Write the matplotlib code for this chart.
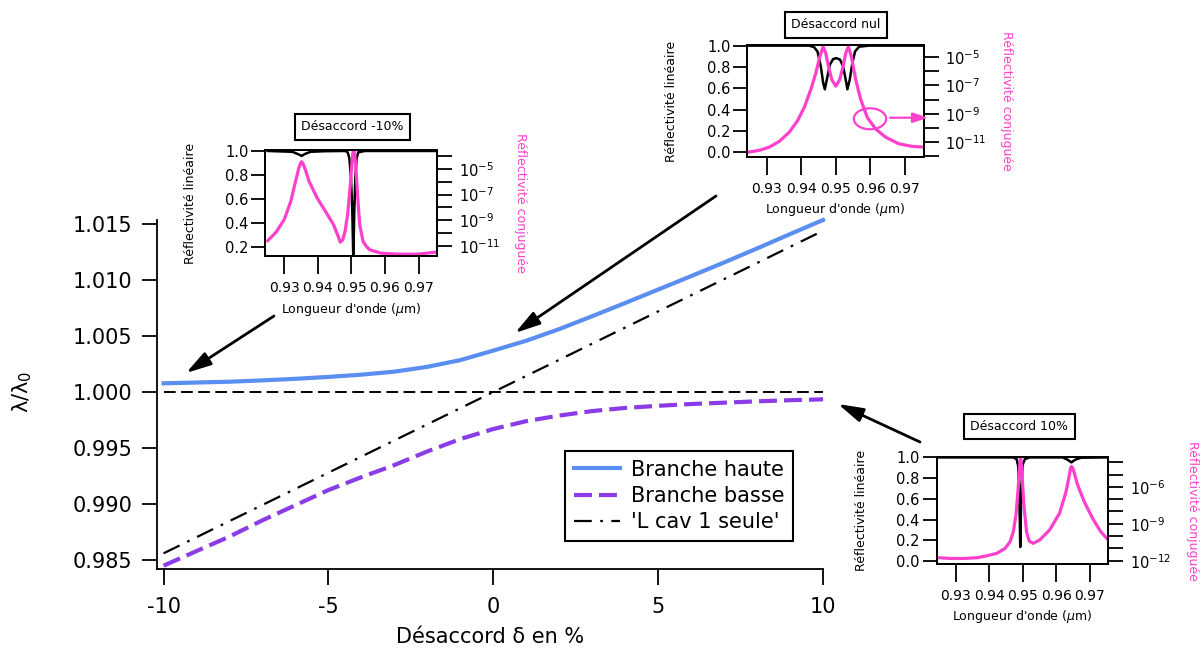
import matplotlib
matplotlib.use('Agg')
import matplotlib.pyplot as plt
import numpy as np
from matplotlib.patches import Ellipse, FancyArrowPatch
from matplotlib.ticker import FixedLocator, FixedFormatter, NullLocator, FormatStrFormatter

plt.rcParams['font.family'] = ['DejaVu Sans']
plt.rcParams['mathtext.fontset'] = 'dejavusans'
plt.rcParams['mathtext.default'] = 'regular'
plt.rcParams['axes.unicode_minus'] = False

# ---------------- main chart data ----------------
delta = [-10, -9, -8, -7, -6, -5, -4, -3, -2, -1, 0, 1, 2, 3, 4, 5, 6, 7, 8, 9, 10]
branche_haute = [1.00078, 1.00085, 1.00092, 1.00104, 1.00118, 1.00135, 1.00155, 1.00182,
                 1.00225, 1.00285, 1.00370, 1.00458, 1.00562, 1.00677, 1.00795, 1.00915,
                 1.01035, 1.01157, 1.01282, 1.01410, 1.01536]
branche_basse = [0.98450, 0.98580, 0.98710, 0.98855, 0.98990, 0.99125, 0.99240, 0.99348,
                 0.99470, 0.99580, 0.99670, 0.99740, 0.99790, 0.99830, 0.99858, 0.99877,
                 0.99893, 0.99905, 0.99917, 0.99927, 0.99935]
delta_cav = [-10, 10]
l_cav_seule = [0.98560, 1.01440]
delta_ref = [-10, 10]
ref_line = [1.0, 1.0]
x_ticks = [-10, -5, 0, 5, 10]
y_ticks = [0.985, 0.990, 0.995, 1.000, 1.005, 1.010, 1.015]

# ---------------- inset data (wavelength in µm) ----------------
# Désaccord -10%
lam_k1 = [0.9251, 0.93245, 0.93422, 0.9352, 0.93618, 0.93784, 0.94225, 0.94814, 0.94892,
          0.94941, 0.9499, 0.95029, 0.95059, 0.95088, 0.95118, 0.95157, 0.95206, 0.95402, 0.9751]
refl_k1 = [0.997, 0.99, 0.97, 0.956, 0.972, 0.99, 0.995, 0.997, 0.986,
           0.937, 0.772, 0.497, 0.10, 0.497, 0.772, 0.937, 0.986, 0.997, 0.997]
lam_p1 = [0.9251, 0.9276, 0.9300, 0.9320, 0.9334, 0.9344, 0.9349, 0.9352, 0.9356, 0.9363,
          0.9374, 0.9398, 0.9423, 0.9447, 0.9460, 0.9467, 0.9474, 0.9481, 0.9489, 0.9497,
          0.9504, 0.9508, 0.9513, 0.9519, 0.9525, 0.9535, 0.9545, 0.9555, 0.9589, 0.9638,
          0.9697, 0.9751]
logc_p1 = [-10.6, -9.93, -8.96, -7.52, -5.96, -4.91, -4.55, -4.44, -4.58, -5.05,
           -5.96, -7.26, -8.31, -9.35, -10.2, -10.71, -10.55, -9.9, -8.57, -6.22,
           -3.87, -3.4, -4.65, -7.26, -9.35, -10.66, -11.05, -11.31, -11.57, -11.65,
           -11.65, -11.49]

# Désaccord nul
lam_k2 = [0.9248, 0.94234, 0.94378, 0.94475, 0.94571, 0.94639, 0.94687, 0.94745, 0.94831,
          0.94928, 0.95024, 0.95130, 0.95217, 0.95294, 0.95342, 0.95410, 0.95487, 0.95564,
          0.95680, 0.95969, 0.97559]
refl_k2 = [1.0, 1.0, 0.985, 0.945, 0.806, 0.652, 0.59, 0.68, 0.82, 0.874, 0.883, 0.868,
           0.806, 0.68, 0.59, 0.68, 0.837, 0.945, 0.99, 1.0, 1.0]
lam_p2 = [0.92480, 0.92788, 0.93077, 0.93366, 0.93655, 0.93896, 0.94089, 0.94282, 0.94427,
          0.94542, 0.94639, 0.94716, 0.94793, 0.94889, 0.95005, 0.95120, 0.95217, 0.95294,
          0.95371, 0.95458, 0.95583, 0.95728, 0.95920, 0.96161, 0.96451, 0.96836, 0.97222, 0.97559]
logc_p2 = [-11.7, -11.58, -11.35, -10.95, -10.3, -9.49, -8.56, -7.28, -6.12, -4.95, -4.26,
           -4.72, -5.65, -6.58, -7.05, -6.58, -5.65, -4.72, -4.26, -4.95, -6.58, -7.98,
           -9.26, -10.07, -10.65, -11.12, -11.3, -11.35]

# Désaccord 10%
lam_k3 = [0.92509, 0.9472, 0.94818, 0.94867, 0.94897, 0.94926, 0.94956, 0.94995, 0.95064,
          0.95211, 0.96194, 0.96342, 0.9645, 0.96558, 0.96735, 0.97521]
refl_k3 = [1.0, 1.0, 0.984, 0.91, 0.668, 0.135, 0.668, 0.926, 0.984, 1.0, 1.0, 0.977,
           0.952, 0.977, 0.997, 1.0]
lam_p3 = [0.92509, 0.92853, 0.93246, 0.93639, 0.93934, 0.94229, 0.94474, 0.94622, 0.94720,
          0.94799, 0.94857, 0.94897, 0.94936, 0.94975, 0.95034, 0.95113, 0.95192, 0.95310,
          0.95506, 0.95801, 0.96096, 0.96292, 0.96391, 0.96420, 0.96450, 0.96480, 0.96509,
          0.96636, 0.96833, 0.97079, 0.97324, 0.97521]
logc_p3 = [-11.76, -11.82, -11.82, -11.76, -11.6, -11.4, -11.0, -10.46, -9.64, -8.28, -6.38,
           -4.75, -3.53, -4.75, -7.47, -9.64, -10.4, -10.59, -10.32, -9.5, -8.15, -6.38,
           -5.02, -4.55, -4.34, -4.42, -4.61, -5.84, -7.2, -8.55, -9.64, -10.24]

inset_xticks = [0.93, 0.94, 0.95, 0.96, 0.97]

# ---------------- styling ----------------
W, H = 1204, 655
BLUE = '#5a8ef0'
PURPLE = '#8a3ce6'
PINK = '#ff40cc'

def fx(x):
    return x / W

def fy(y):
    return 1 - y / H

fig = plt.figure(figsize=(W / 100, H / 100), dpi=100)

# ---------------- main axes ----------------
ax = fig.add_axes([fx(157), fy(569), 666 / W, 349 / H])
ax.plot(delta_ref, ref_line, color='black', lw=1.4, linestyle=(0, (6, 2.8)), clip_on=False)
l3, = ax.plot(delta_cav, l_cav_seule, color='black', lw=1.6,
              linestyle=(0, (8, 3.8, 1.2, 3.8)), clip_on=False, label="'L cav 1 seule'")
l2, = ax.plot(delta, branche_basse, color=PURPLE, lw=3.0,
              linestyle=(0, (4.3, 1.7)), clip_on=False, label='Branche basse')
l1, = ax.plot(delta, branche_haute, color=BLUE, lw=3.0, clip_on=False, label='Branche haute')
ax.set_xlim(-10.2, 10.0)
ax.set_ylim(0.98420, 1.01536)
ax.spines['top'].set_visible(False)
ax.spines['right'].set_visible(False)
for s in ('left', 'bottom'):
    ax.spines[s].set_linewidth(1.3)
ax.set_xticks(x_ticks)
ax.set_xticklabels([str(v) for v in x_ticks])
ax.set_yticks(y_ticks)
ax.yaxis.set_major_formatter(FormatStrFormatter('%.3f'))
ax.tick_params(axis='y', direction='out', length=10.8, width=1.3, pad=7, labelsize=15)
ax.tick_params(axis='x', direction='out', length=11.5, width=1.3, pad=9, labelsize=15)
fig.text(fx(490), fy(637), 'Désaccord δ en %', ha='center', va='center', fontsize=15)
fig.text(fx(22), fy(392), r'$\lambda/\lambda_0$', ha='center', va='center',
         fontsize=15, rotation=90)

leg = ax.legend(handles=[l1, l2, l3], loc='upper left',
                bbox_to_anchor=(fx(565), fy(451)), bbox_transform=fig.transFigure,
                borderaxespad=0, fontsize=15, frameon=True, fancybox=False,
                edgecolor='black', framealpha=1, handlelength=2.2, handletextpad=0.55,
                labelspacing=0.3, borderpad=0.42)
leg.get_frame().set_linewidth(1.5)


def make_inset(box, lam_k, refl_k, lam_p, logc_p, ylim_l, yticks_l, log_lim,
               rticks, rlabel_exps, title, title_xy, xlabel_y, llabel_x, rlabel_x):
    x0, y0, x1, y1 = box
    a = fig.add_axes([fx(x0), fy(y1), (x1 - x0) / W, (y1 - y0) / H])
    a.plot(lam_k, refl_k, color='black', lw=1.8)
    a.set_xlim(0.9243, 0.9755)
    a.set_ylim(*ylim_l)
    a.set_xticks(inset_xticks)
    a.xaxis.set_major_formatter(FormatStrFormatter('%.2f'))
    a.set_yticks(yticks_l)
    a.yaxis.set_major_formatter(FormatStrFormatter('%.1f'))
    a.tick_params(axis='x', direction='out', length=13, width=1.3, pad=5, labelsize=10)
    a.tick_params(axis='y', direction='out', length=10, width=1.3, pad=2, labelsize=10.5)
    for s in a.spines.values():
        s.set_linewidth(1.3)
    b = a.twinx()
    b.plot(lam_p, 10 ** np.array(logc_p), color=PINK, lw=2.3, solid_joinstyle='round')
    b.set_yscale('log')
    b.set_ylim(10 ** log_lim[0], 10 ** log_lim[1])
    b.yaxis.set_major_locator(FixedLocator([10.0 ** e for e in rticks]))
    b.yaxis.set_major_formatter(FixedFormatter(
        ['10$^{%d}$' % e if e in rlabel_exps else '' for e in rticks]))
    b.yaxis.set_minor_locator(NullLocator())
    b.tick_params(axis='y', direction='out', length=10.8, width=1.3, pad=5, labelsize=10.5)
    for s in b.spines.values():
        s.set_linewidth(1.3)
    cx = (x0 + x1) / 2
    cy = (y0 + y1) / 2
    fig.text(fx(cx), fy(xlabel_y), r"Longueur d'onde ($\mathit{\mu}$m)",
             ha='center', va='center', fontsize=9)
    fig.text(fx(llabel_x), fy(cy), 'Réflectivité linéaire', ha='center', va='center',
             fontsize=9, rotation=90)
    fig.text(fx(rlabel_x), fy(cy), 'Réflectivité conjuguée', ha='center', va='center',
             fontsize=9, rotation=-90, color=PINK)
    fig.text(fx(title_xy[0]), fy(title_xy[1]), title, ha='center', va='center', fontsize=9,
             bbox=dict(boxstyle='square,pad=0.5', fc='white', ec='black', lw=1.5))
    return a, b


make_inset((265, 150, 437, 256), lam_k1, refl_k1, lam_p1, logc_p1,
           (0.1275, 1.005), [0.2, 0.4, 0.6, 0.8, 1.0], (-11.79, -3.53),
           [-4, -5, -6, -7, -8, -9, -10, -11], [-5, -7, -9, -11],
           'Désaccord -10%', (352.5, 127), 310, 190.7, 520)
make_inset((747, 45, 923.5, 157), lam_k2, refl_k2, lam_p2, logc_p2,
           (-0.046, 1.006), [0.0, 0.2, 0.4, 0.6, 0.8, 1.0], (-12.05, -4.14),
           [-5, -6, -7, -8, -9, -10, -11, -12], [-5, -7, -9, -11],
           'Désaccord nul', (836, 25), 209, 671.7, 1006.7)
make_inset((936.5, 457, 1108.3, 564), lam_k3, refl_k3, lam_p3, logc_p3,
           (-0.029, 1.004), [0.0, 0.2, 0.4, 0.6, 0.8, 1.0], (-12.27, -3.57),
           [-4, -5, -6, -7, -8, -9, -10, -11, -12], [-6, -9, -12],
           'Désaccord 10%', (1019.5, 426.7), 616.7, 861.7, 1193)

# pink ellipse + arrow in the "nul" inset
fig.add_artist(Ellipse((fx(870), fy(118.8)), 32.3 / W, 21 / H, transform=fig.transFigure,
                       fill=False, ec=PINK, lw=1.6))
fig.add_artist(FancyArrowPatch((fx(890), fy(117.7)), (fx(928), fy(117.7)),
                               transform=fig.transFigure, color=PINK, lw=1.6,
                               arrowstyle='-|>,head_length=0.9,head_width=0.3',
                               mutation_scale=10, shrinkA=0, shrinkB=0))

# black arrows
for (xa, ya), (xb, yb) in [((274, 316), (186, 373)), ((716, 196), (515, 333)),
                           ((920, 442), (838, 404))]:
    fig.add_artist(FancyArrowPatch((fx(xa), fy(ya)), (fx(xb), fy(yb)),
                                   transform=fig.transFigure, color='black', lw=2.0,
                                   arrowstyle='-|>,head_length=0.95,head_width=0.27',
                                   mutation_scale=16, shrinkA=0, shrinkB=0))

fig.savefig('out.png', dpi=100)
